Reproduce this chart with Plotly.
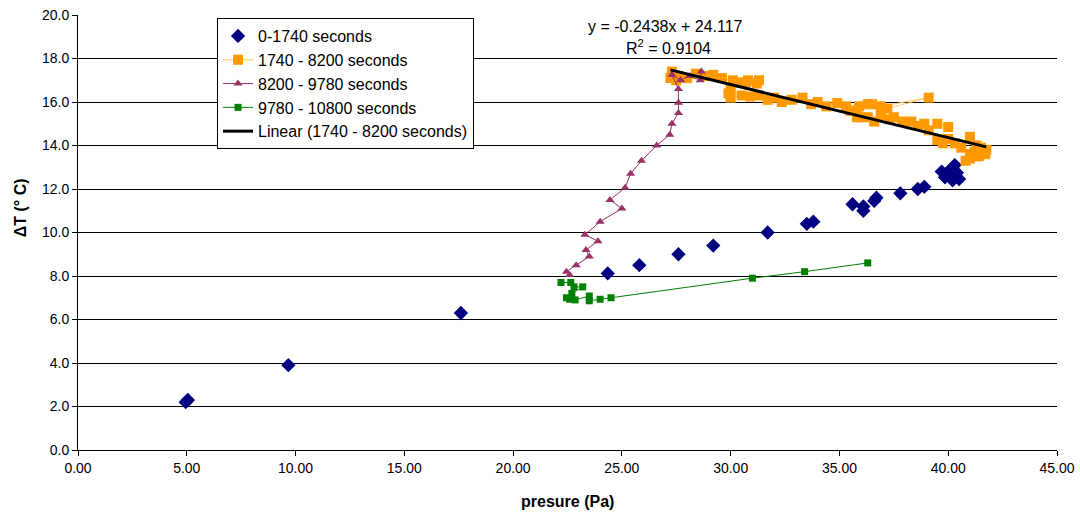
import plotly.graph_objects as go

# ---- data ----
blue_x = [4.95, 5.05, 9.67, 17.6, 24.35, 25.8, 27.6, 29.2, 31.7, 33.5, 33.8, 35.6, 36.1, 36.1,
          36.6, 36.7, 37.8, 38.6, 38.9, 39.7, 39.85, 40.0, 40.2, 40.5, 40.3, 40.4]
blue_y = [2.2, 2.3, 3.9, 6.3, 8.12, 8.5, 9.0, 9.4, 10.0, 10.4, 10.5, 11.3, 11.2, 11.0,
          11.45, 11.6, 11.8, 12.0, 12.1, 12.8, 12.54, 12.8, 12.4, 12.46, 13.1, 12.75]

orange_x = [41.0, 41.4, 41.7, 41.75, 41.5, 41.2, 40.8, 41.0, 41.3, 41.0, 40.6, 40.3, 40.0, 39.75,
            39.5, 40.0, 39.5, 39.1, 38.9, 38.6, 38.3, 37.9, 37.5, 37.3, 36.9, 36.6, 36.3, 36.0,
            35.8, 35.5, 35.8, 36.3, 36.9, 39.1, 37.2, 36.5, 35.9, 35.3, 34.9, 34.4, 34.0, 33.7,
            33.3, 32.8, 32.35, 32.0, 31.7, 31.3, 30.9, 30.5, 30.0, 29.9, 30.0, 30.3, 30.7, 31.2,
            31.3, 30.8, 30.1, 29.6, 29.2, 28.8, 28.4, 28.0, 27.6, 27.3, 27.23, 27.5]
orange_y = [13.4, 13.5, 13.6, 13.8, 13.9, 13.7, 13.3, 13.6, 14.0, 14.4, 13.9, 14.1, 14.3, 14.1,
            14.25, 14.85, 15.0, 14.7, 15.0, 14.9, 15.1, 15.1, 15.3, 15.2, 15.4, 15.1, 15.3, 15.3,
            15.3, 15.6, 15.6, 15.9, 15.8, 16.2, 15.7, 15.9, 15.8, 15.8, 15.95, 15.8, 16.0, 15.9,
            16.2, 16.1, 16.0, 16.2, 16.1, 16.3, 16.25, 16.3, 16.2, 16.4, 16.6, 16.9, 16.9, 16.85,
            17.0, 17.0, 17.0, 17.1, 17.25, 17.2, 17.3, 17.1, 17.2, 17.4, 17.1, 17.0]

purple_x = [28.65, 28.6, 28.1, 27.7, 27.3, 27.6, 27.6, 27.6, 27.3, 27.2, 26.6, 25.9, 25.4, 25.15,
            24.45, 25.0, 24.0, 23.3, 23.9, 23.35, 23.5, 22.9, 22.45, 22.6]
purple_y = [17.4, 17.0, 17.2, 17.0, 17.25, 16.6, 15.97, 15.5, 15.0, 14.5, 14.0, 13.3, 12.7, 12.06,
            11.5, 11.1, 10.5, 9.9, 9.6, 9.2, 8.9, 8.5, 8.2, 8.05]

green_x = [22.2, 22.65, 22.8, 23.2, 22.7, 22.45, 22.6, 22.85, 23.5, 23.5, 24.0, 24.5, 31.0, 33.4, 36.3]
green_y = [7.7, 7.7, 7.5, 7.5, 7.2, 7.0, 6.93, 6.9, 7.08, 6.86, 6.93, 7.0, 7.9, 8.2, 8.6]

trend_slope = -0.2438
trend_intercept = 24.117
trend_r2 = 0.9104

names = ["0-1740 seconds", "1740 - 8200 seconds", "8200 - 9780 seconds",
         "9780 - 10800 seconds", "Linear (1740 - 8200 seconds)"]
x_title = "presure (Pa)"
y_title = "ΔT (° C)"

FONT = "Arial, Liberation Sans, sans-serif"

fig = go.Figure()
fig.add_trace(go.Scatter(x=blue_x, y=blue_y, mode="markers", name=names[0],
                         marker=dict(symbol="diamond", size=11, color="#000080")))
fig.add_trace(go.Scatter(x=orange_x, y=orange_y, mode="lines+markers", name=names[1],
                         line=dict(color="#FFC966", width=1),
                         marker=dict(symbol="square", size=10, color="#FF9900")))
fig.add_trace(go.Scatter(x=purple_x, y=purple_y, mode="lines+markers", name=names[2],
                         line=dict(color="#993366", width=1),
                         marker=dict(symbol="triangle-up", size=8, color="#993366")))
fig.add_trace(go.Scatter(x=green_x, y=green_y, mode="lines+markers", name=names[3],
                         line=dict(color="#008000", width=1),
                         marker=dict(symbol="square", size=7, color="#008000")))
tx = [min(orange_x), max(orange_x)]
ty = [trend_slope * v + trend_intercept for v in tx]
fig.add_trace(go.Scatter(x=tx, y=ty, mode="lines", name=names[4],
                         line=dict(color="#000000", width=3)))

fig.add_annotation(x=27.02, y=19.45, xref="x", yref="y", showarrow=False,
                   text=f"y = {trend_slope:.4f}x + {trend_intercept:.3f}",
                   font=dict(family=FONT, size=16, color="black"))
fig.add_annotation(x=27.16, y=18.53, xref="x", yref="y", showarrow=False,
                   text=f"R<sup>2</sup> = {trend_r2:.4f}",
                   font=dict(family=FONT, size=16, color="black"))

# axis titles
fig.add_annotation(x=0.5, y=-0.118, xref="paper", yref="paper", showarrow=False,
                   xanchor="center", yanchor="middle",
                   text=f"<b>{x_title}</b>", font=dict(family=FONT, size=16, color="black"))
fig.add_annotation(x=-0.0592, y=0.556, xref="paper", yref="paper", showarrow=False,
                   xanchor="center", yanchor="middle", textangle=-90,
                   text=f"<b>{y_title}</b>", font=dict(family=FONT, size=16, color="black"))

fig.update_layout(
    width=1080, height=515,
    margin=dict(l=78, r=23, t=15, b=65),
    paper_bgcolor="white", plot_bgcolor="white",
    font=dict(family=FONT, size=14, color="black"),
    showlegend=True,
    legend=dict(x=0.142, y=0.993, xanchor="left", yanchor="top",
                bordercolor="black", borderwidth=1, bgcolor="white",
                font=dict(family=FONT, size=16, color="black"),
                tracegroupgap=0),
)
fig.update_xaxes(range=[0, 45], dtick=5, tick0=0, tickformat=".2f",
                 showgrid=False, zeroline=False, automargin=False,
                 showline=True, linecolor="black", linewidth=1,
                 ticks="outside", ticklen=5, tickcolor="black")
fig.update_yaxes(range=[0, 20], dtick=2, tick0=0, tickformat=".1f",
                 showgrid=True, gridcolor="black", gridwidth=1, zeroline=False,
                 automargin=False,
                 showline=True, linecolor="black", linewidth=1,
                 ticks="outside", ticklen=5, tickcolor="black")

fig.write_html("out.html")
